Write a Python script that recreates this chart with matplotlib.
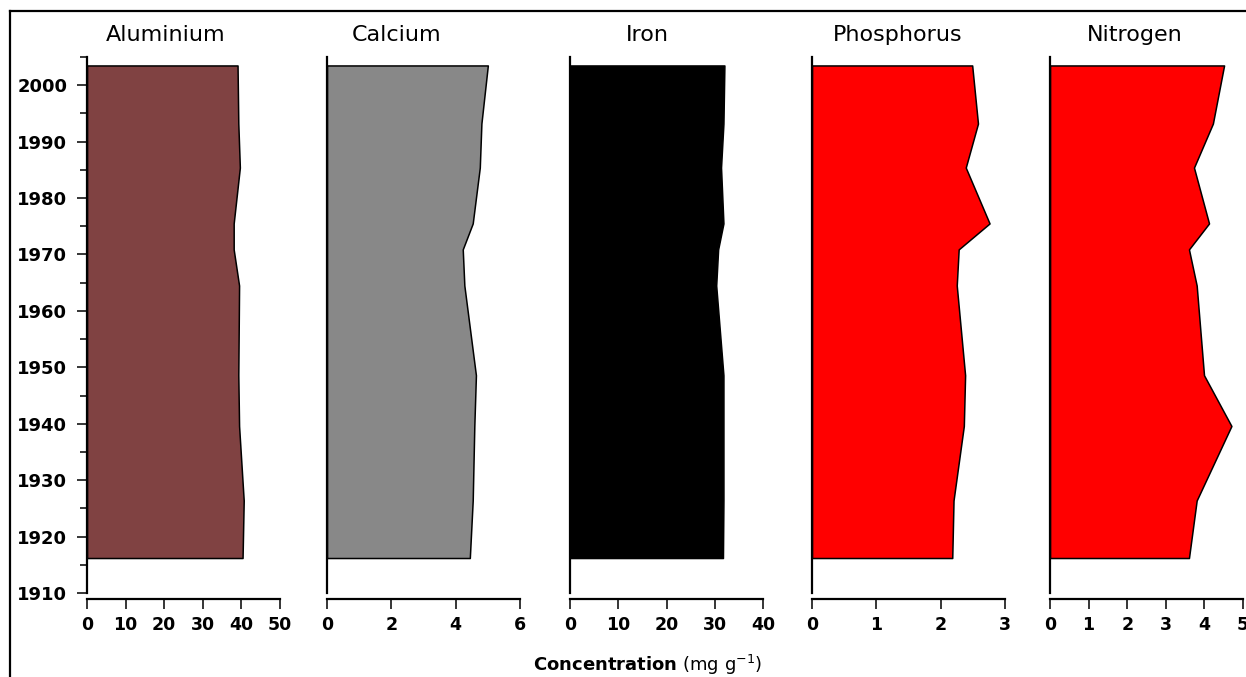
import matplotlib
matplotlib.use("Agg")
import matplotlib.pyplot as plt
from matplotlib.lines import Line2D
from matplotlib.ticker import MultipleLocator

plt.rcParams["font.family"] = ["DejaVu Sans"]
plt.rcParams["mathtext.fontset"] = "dejavusans"

# sample dates (years) shared by all elements
years = [2003.5, 1993.2, 1985.4, 1975.5, 1970.9, 1964.5, 1948.6, 1939.6, 1926.4, 1916.2]

aluminium = [39.0, 39.2, 39.6, 38.0, 38.0, 39.4, 39.2, 39.4, 40.6, 40.3]
calcium = [5.0, 4.8, 4.75, 4.53, 4.22, 4.27, 4.63, 4.58, 4.53, 4.44]
iron = [32.0, 31.8, 31.3, 31.8, 30.7, 30.3, 31.8, 31.8, 31.8, 31.7]
phosphorus = [2.49, 2.58, 2.39, 2.76, 2.28, 2.25, 2.38, 2.36, 2.20, 2.18]
nitrogen = [4.51, 4.22, 3.73, 4.12, 3.60, 3.80, 3.99, 4.70, 3.80, 3.60]

names = ["Aluminium", "Calcium", "Iron", "Phosphorus", "Nitrogen"]
series = [aluminium, calcium, iron, phosphorus, nitrogen]
x_max = [50, 6, 40, 3, 5]
x_step = [10, 2, 10, 1, 1]
colors = ["#804242", "#888888", "#000000", "#ff0000", "#ff0000"]

W, H = 1246, 677
fig = plt.figure(figsize=(W / 100, H / 100), dpi=100)

# panel left edges in pixels
lefts_px = [87, 327, 570, 812, 1050]
width_px = 193
top_px, bottom_px = 57, 593
title_x = [0.41, 0.36, 0.40, 0.445, 0.44]

for i, (name, vals) in enumerate(zip(names, series)):
    ax = fig.add_axes([lefts_px[i] / W, 1 - bottom_px / H, width_px / W, (bottom_px - top_px) / H])
    ax.fill_betweenx(years, 0, vals, facecolor=colors[i], edgecolor="black", linewidth=1.1)
    ax.set_xlim(0, x_max[i])
    ax.set_ylim(1910, 2005)
    ax.xaxis.set_major_locator(MultipleLocator(x_step[i]))
    for s in ("top", "right"):
        ax.spines[s].set_visible(False)
    for s in ("left", "bottom"):
        ax.spines[s].set_linewidth(1.6)
    ax.spines["bottom"].set_position(("outward", 4))
    ax.tick_params(axis="x", direction="out", length=7.2, width=1.1, pad=5, labelsize=12.5)
    for lab in ax.get_xticklabels():
        lab.set_fontweight("bold")
    if i == 0:
        ax.yaxis.set_major_locator(MultipleLocator(10))
        ax.yaxis.set_minor_locator(MultipleLocator(5))
        ax.tick_params(axis="y", which="major", direction="out", length=7.2, width=1.1, pad=7, labelsize=13)
        ax.tick_params(axis="y", which="minor", direction="out", length=4.8, width=1.1)
        for lab in ax.get_yticklabels():
            lab.set_fontweight("bold")
    else:
        ax.set_yticks([])
    ax.set_title(name, x=title_x[i], fontsize=16, pad=11.5)

fig.text(648 / W, 1 - 665 / H, r"$\bf{Concentration}$ (mg g$^{-1}$)", ha="center", va="center", fontsize=13)

# frame around the figure (left and top edges visible)
fig.add_artist(Line2D([10 / W, 10 / W], [0, 1 - 11 / H], color="black", linewidth=1.6, transform=fig.transFigure))
fig.add_artist(Line2D([10 / W, 1], [1 - 11 / H, 1 - 11 / H], color="black", linewidth=1.6, transform=fig.transFigure))

fig.savefig("out.png", dpi=100)
